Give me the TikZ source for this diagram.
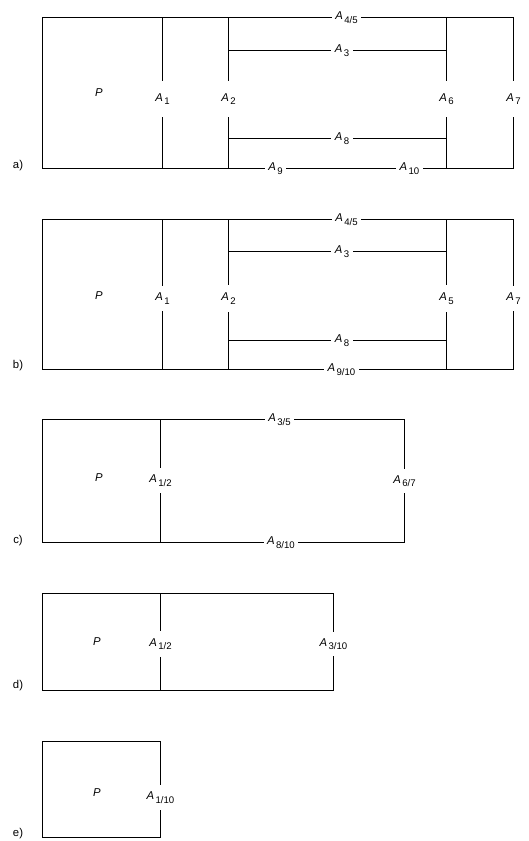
\documentclass[tikz,border=0pt]{standalone}
\usepackage{fontspec}
\setmainfont{Liberation Sans}
\newcommand\Lab[1]{\textit{A}\kern1pt\raisebox{-2.6pt}{\fontsize{7.2}{8}\selectfont #1}}
\begin{document}
\begin{tikzpicture}[x=0.75pt,y=-0.75pt,
  frame/.style={line width=1.0pt,line cap=rect},
  inner/.style={line width=0.9pt},
  lab/.style={font=\fontsize{8.5}{9}\selectfont,inner sep=0pt,inner xsep=3pt},
  vlab/.style={lab,minimum height=#1},
  vlab/.default=27pt,
  txt/.style={font=\fontsize{8.5}{9}\selectfont,inner sep=0pt}]
\useasboundingbox (0,0) rectangle (528,841);

% ---------------- panel a ----------------
\coordinate (aTL) at (42.5,17.5);  \coordinate (aTR) at (513.5,17.5);
\coordinate (aBL) at (42.5,168.5); \coordinate (aBR) at (513.5,168.5);
\coordinate (a1T) at (162.5,17.5); \coordinate (a1B) at (162.5,168.5);
\coordinate (a2T) at (228.5,17.5); \coordinate (a2B) at (228.5,168.5);
\coordinate (a6T) at (446.5,17.5); \coordinate (a6B) at (446.5,168.5);
\coordinate (a3L) at (228.5,50.5); \coordinate (a3R) at (446.5,50.5);
\coordinate (a8L) at (228.5,138.5);\coordinate (a8R) at (446.5,138.5);
\node[lab] (aA45) at (346.5,17.5) {\Lab{4/5}};
\node[lab] (aA3) at (342,50.5) {\Lab{3}};
\node[lab] (aA8) at (342,138.5) {\Lab{8}};
\node[lab] (aA9) at (275.5,168.5) {\Lab{9}};
\node[lab] (aA10) at (409.5,168.5) {\Lab{10}};
\node[vlab] (aA1) at (162.5,99) {\Lab{1}};
\node[vlab] (aA2) at (228.5,99) {\Lab{2}};
\node[vlab] (aA6) at (446.5,99) {\Lab{6}};
\node[vlab] (aA7) at (513.5,99) {\Lab{7}};
\node[txt] (aP) at (99,93) {\textit{P}};
\node[txt] (alab) at (18,166) {a)};
\draw[frame] (aTL) -- (aA45) (aA45) -- (aTR) -- (aA7) (aA7) -- (aBR) -- (aA10)
  (aA10) -- (aA9) (aA9) -- (aBL) -- (aTL);
\draw[frame] (a1T) -- (aA1) (aA1) -- (a1B);
\draw[inner] (a2T) -- (aA2) (aA2) -- (a2B);
\draw[inner] (a6T) -- (aA6) (aA6) -- (a6B);
\draw[inner] (a3L) -- (aA3) (aA3) -- (a3R);
\draw[inner] (a8L) -- (aA8) (aA8) -- (a8R);

% ---------------- panel b ----------------
\coordinate (bTL) at (42.5,219.5);  \coordinate (bTR) at (513.5,219.5);
\coordinate (bBL) at (42.5,369.5);  \coordinate (bBR) at (513.5,369.5);
\coordinate (b1T) at (162.5,219.5); \coordinate (b1B) at (162.5,369.5);
\coordinate (b2T) at (228.5,219.5); \coordinate (b2B) at (228.5,369.5);
\coordinate (b6T) at (446.5,219.5); \coordinate (b6B) at (446.5,369.5);
\coordinate (b3L) at (228.5,251.5); \coordinate (b3R) at (446.5,251.5);
\coordinate (b8L) at (228.5,340.5); \coordinate (b8R) at (446.5,340.5);
\node[lab] (bA45) at (346.5,219.5) {\Lab{4/5}};
\node[lab] (bA3) at (342,251.5) {\Lab{3}};
\node[lab] (bA8) at (342,340.5) {\Lab{8}};
\node[lab] (bA910) at (341.5,369.5) {\Lab{9/10}};
\node[vlab=20pt] (bA1) at (162.5,298.5) {\Lab{1}};
\node[vlab=20pt] (bA2) at (228.5,298.5) {\Lab{2}};
\node[vlab=20pt] (bA5) at (446.5,298.5) {\Lab{5}};
\node[vlab=20pt] (bA7) at (513.5,298.5) {\Lab{7}};
\node[txt] (bP) at (99,296) {\textit{P}};
\node[txt] (blab) at (18,366) {b)};
\draw[frame] (bTL) -- (bA45) (bA45) -- (bTR) -- (bA7) (bA7) -- (bBR) -- (bA910)
  (bA910) -- (bBL) -- (bTL);
\draw[frame] (b1T) -- (bA1) (bA1) -- (b1B);
\draw[inner] (b2T) -- (bA2) (bA2) -- (b2B);
\draw[inner] (b6T) -- (bA5) (bA5) -- (b6B);
\draw[inner] (b3L) -- (bA3) (bA3) -- (b3R);
\draw[inner] (b8L) -- (bA8) (bA8) -- (b8R);

% ---------------- panel c ----------------
\coordinate (cTL) at (42.5,419.5);  \coordinate (cTR) at (404.5,419.5);
\coordinate (cBL) at (42.5,542.5);  \coordinate (cBR) at (404.5,542.5);
\coordinate (c1T) at (160.5,419.5); \coordinate (c1B) at (160.5,542.5);
\node[lab] (cA35) at (279.5,419.5) {\Lab{3/5}};
\node[lab] (cA810) at (281,542.5) {\Lab{8/10}};
\node[vlab=18.75pt] (cA12) at (160.5,480.5) {\Lab{1/2}};
\node[vlab=18.75pt] (cA67) at (404.5,481) {\Lab{6/7}};
\node[txt] (cP) at (99,478) {\textit{P}};
\node[txt] (clab) at (18,541) {c)};
\draw[frame] (cTL) -- (cA35) (cA35) -- (cTR) -- (cA67) (cA67) -- (cBR) -- (cA810)
  (cA810) -- (cBL) -- (cTL);
\draw[inner] (c1T) -- (cA12) (cA12) -- (c1B);

% ---------------- panel d ----------------
\coordinate (dTL) at (42.5,593.5);  \coordinate (dTR) at (333.5,593.5);
\coordinate (dBL) at (42.5,690.5);  \coordinate (dBR) at (333.5,690.5);
\coordinate (d1T) at (160.5,593.5); \coordinate (d1B) at (160.5,690.5);
\node[vlab=18.75pt] (dA12) at (160.5,644) {\Lab{1/2}};
\node[vlab=18.75pt] (dA310) at (333.5,644) {\Lab{3/10}};
\node[txt] (dP) at (97,642) {\textit{P}};
\node[txt] (dlab) at (18,686) {d)};
\draw[frame] (dTL) -- (dTR) -- (dA310) (dA310) -- (dBR) -- (dBL) -- (dTL);
\draw[inner] (d1T) -- (dA12) (dA12) -- (d1B);

% ---------------- panel e ----------------
\coordinate (eTL) at (42.5,741.5);  \coordinate (eTR) at (160.5,741.5);
\coordinate (eBL) at (42.5,837.5);  \coordinate (eBR) at (160.5,837.5);
\node[vlab=18.75pt] (eA110) at (160.5,797.5) {\Lab{1/10}};
\node[txt] (eP) at (97,793) {\textit{P}};
\node[txt] (elab) at (18,834) {e)};
\draw[frame] (eTL) -- (eTR) -- (eA110) (eA110) -- (eBR) -- (eBL) -- (eTL);
\end{tikzpicture}
\end{document}
